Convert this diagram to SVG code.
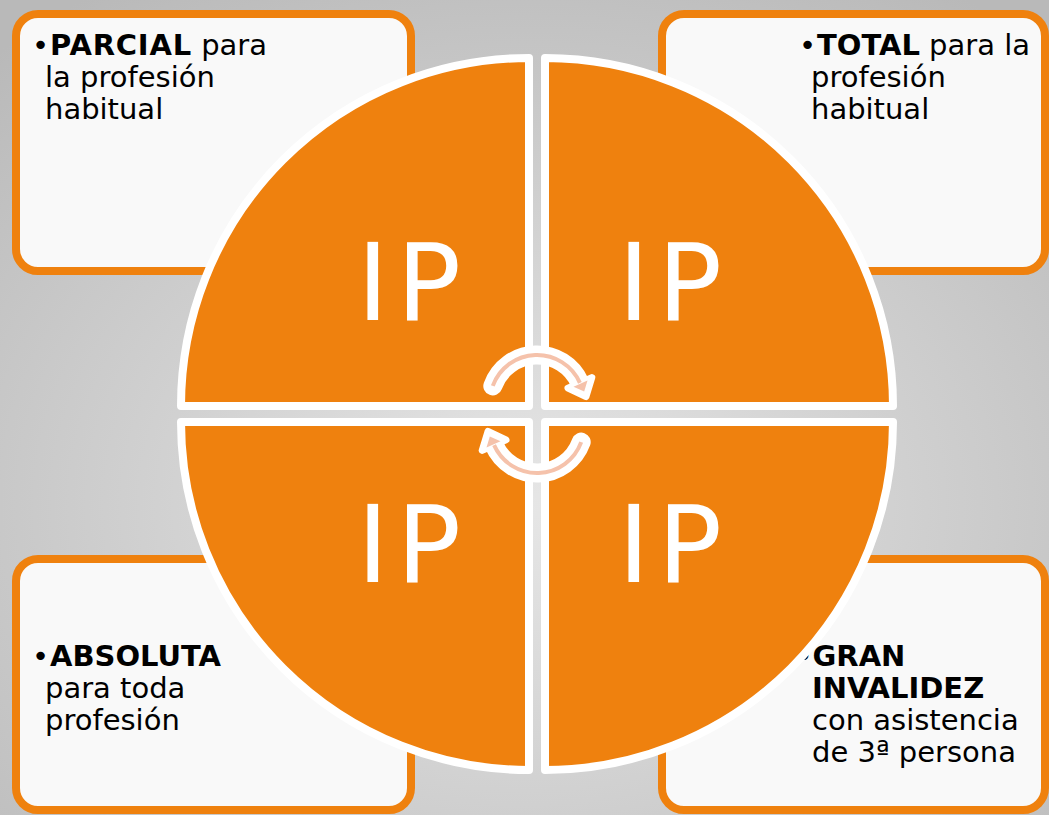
<svg xmlns="http://www.w3.org/2000/svg" width="1049" height="815" viewBox="0 0 1049 815">
  <defs>
    <radialGradient id="bg" cx="50%" cy="62%" r="75%">
      <stop offset="0" stop-color="#e6e6e6"/>
      <stop offset="1" stop-color="#b9b9b9"/>
    </radialGradient>
    <style>
      .box { fill: #f9f9f9; stroke: #ef810e; stroke-width: 8; }
      .txt { font-family: "DejaVu Sans", Verdana, sans-serif; font-size: 29px; fill: #000; }
      .b { font-weight: bold; }
      .quad { fill: #ef810e; stroke: #ffffff; stroke-width: 8; stroke-linejoin: round; }
      .ip { font-family: "DejaVu Sans", Verdana, sans-serif; font-size: 107px; fill: #ffffff; letter-spacing: 8px; }
      .arc-w { fill: none; stroke: #ffffff; stroke-width: 19; stroke-linecap: round; }
      .arc-p { fill: none; stroke: #f5c2ab; stroke-width: 4; }
      .head-w { fill: #ffffff; stroke: #ffffff; stroke-width: 7; stroke-linejoin: round; }
      .head-p { fill: #f5c2ab; }
    </style>
  </defs>

  <rect x="0" y="0" width="1049" height="815" fill="url(#bg)"/>

  <g id="box-parcial">
    <rect class="box" x="16" y="14" width="395" height="257" rx="22"/>
    <text class="txt" x="32" y="55">•<tspan class="b" x="50" letter-spacing="0.8">PARCIAL</tspan> para</text>
    <text class="txt" x="45" y="87">la profesión</text>
    <text class="txt" x="45" y="119">habitual</text>
  </g>

  <g id="box-total">
    <rect class="box" x="662" y="14" width="383" height="257" rx="22"/>
    <text class="txt" x="799" y="55">•<tspan class="b" x="817">TOTAL</tspan> para la</text>
    <text class="txt" x="811" y="87">profesión</text>
    <text class="txt" x="811" y="119">habitual</text>
  </g>

  <g id="box-absoluta">
    <rect class="box" x="16" y="559" width="395" height="251" rx="22"/>
    <text class="txt" x="32" y="666">•<tspan class="b" x="50">ABSOLUTA</tspan></text>
    <text class="txt" x="45" y="698">para toda</text>
    <text class="txt" x="45" y="730">profesión</text>
  </g>

  <g id="box-gran-invalidez">
    <rect class="box" x="662" y="559" width="383" height="251" rx="22"/>
    <text class="txt" x="795.5" y="666">•<tspan class="b" x="812.5">GRAN</tspan></text>
    <text class="txt b" x="812" y="698">INVALIDEZ</text>
    <text class="txt" x="812" y="730">con asistencia</text>
    <text class="txt" x="812" y="762">de 3ª persona</text>
  </g>

  <g id="ip-top-left">
    <path class="quad" d="M 529 406 L 181 406 A 348 348 0 0 1 529 58 Z"/>
    <text class="ip" x="357" y="320">IP</text>
  </g>
  <g id="ip-top-right">
    <path class="quad" d="M 545 406 L 545 58 A 348 348 0 0 1 893 406 Z"/>
    <text class="ip" x="618" y="320">IP</text>
  </g>
  <g id="ip-bottom-right">
    <path class="quad" d="M 545 422 L 893 422 A 348 348 0 0 1 545 770 Z"/>
    <text class="ip" x="618" y="582">IP</text>
  </g>
  <g id="ip-bottom-left">
    <path class="quad" d="M 529 422 L 529 770 A 348 348 0 0 1 181 422 Z"/>
    <text class="ip" x="357" y="582">IP</text>
  </g>

  <g id="connectors">
    <g id="arrow-top">
      <path class="arc-w" d="M 492.8 385.9 A 47 47 0 0 1 579.9 382.9"/>
      <polygon class="head-w" points="591.8,377.6 568.0,388.2 586.0,396.6"/>
      <path class="arc-p" d="M 492.8 385.9 A 47 47 0 0 1 579.9 382.9"/>
      <polygon class="head-p" points="587.5,380.5 573.5,386.8 584.2,391.6"/>
    </g>
    <g id="arrow-bottom" transform="rotate(180 537 414)">
      <path class="arc-w" d="M 492.8 385.9 A 47 47 0 0 1 579.9 382.9"/>
      <polygon class="head-w" points="591.8,377.6 568.0,388.2 586.0,396.6"/>
      <path class="arc-p" d="M 492.8 385.9 A 47 47 0 0 1 579.9 382.9"/>
      <polygon class="head-p" points="587.5,380.5 573.5,386.8 584.2,391.6"/>
    </g>
  </g>
</svg>
